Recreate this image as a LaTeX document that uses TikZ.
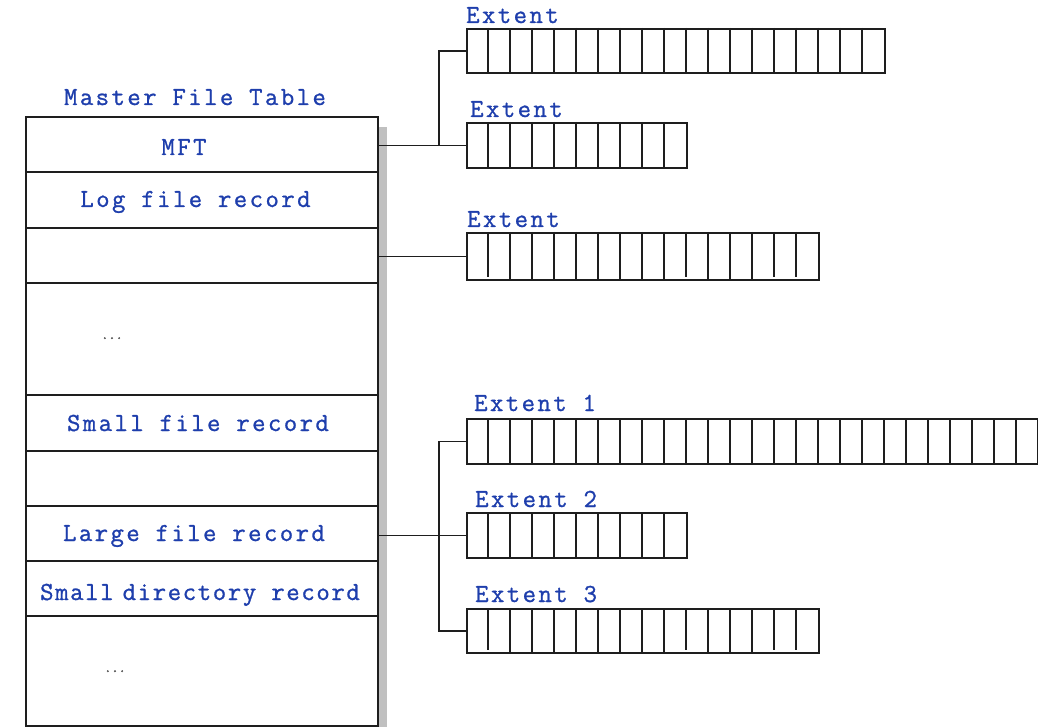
\documentclass[tikz,border=0pt]{standalone}
\usepackage{fontspec}
\newfontfamily\courwide[LetterSpace=9.4,FakeBold=1.0]{Latin Modern Mono}
\newfontfamily\courmid[LetterSpace=6.3,FakeBold=1.0]{Latin Modern Mono}
\newfontfamily\courdots[FakeBold=2.5]{Latin Modern Mono}
\usetikzlibrary{calc}
\definecolor{txtblue}{RGB}{30,62,172}
\definecolor{shadowgray}{RGB}{192,192,192}
\definecolor{linegray}{RGB}{30,30,30}
\begin{document}
\begin{tikzpicture}[x=1pt,y=-1pt,
  rowbox/.style={draw=linegray, line width=1.8pt, minimum width=352pt, inner sep=0pt, anchor=north west},
  txt/.style={font=\courwide\fontsize{26}{26}\selectfont, text=txtblue, inner sep=0pt, anchor=base},
  txtnarrow/.style={font=\courmid\fontsize{26}{26}\selectfont, text=txtblue, inner sep=0pt, anchor=base},
  lbl/.style={txt, anchor=base west},
  dots/.style={font=\courdots\fontsize{14}{14}\selectfont, text=black!65, inner sep=0pt, anchor=base},
  extent/.style={draw=linegray, line width=1.8pt, minimum height=45pt, inner sep=0pt, anchor=north west},
  cellline/.style={draw=linegray, line width=1.8pt},
  conn/.style={draw=linegray, line width=1.7pt}
]
\path[use as bounding box] (0,0) rectangle (1038,727);
\clip (0,0) rectangle (1038,727);

% shadow
\fill[shadowgray] (377,127) rectangle (387,727);

% table rows
\node[rowbox, minimum height=55pt]  (r1) at (25,116) {};
\node[rowbox, minimum height=56pt]  (r2) at (25,171) {};
\node[rowbox, minimum height=55pt]  (r3) at (25,227) {};
\node[rowbox, minimum height=112pt] (r4) at (25,282) {};
\node[rowbox, minimum height=56pt]  (r5) at (25,394) {};
\node[rowbox, minimum height=55pt]  (r6) at (25,450) {};
\node[rowbox, minimum height=55pt]  (r7) at (25,505) {};
\node[rowbox, minimum height=55pt]  (r8) at (25,560) {};
\node[rowbox, minimum height=110pt] (r9) at (25,615) {};

% table texts
\node[txt] (title) at (195,105) {Master File Table};
\node[txt] (t1) at (184,155) {MFT};
\node[txt] (t2) at (195.5,207) {Log file record};
\node[dots] (t4) at (112,339) {...};
\node[txt] (t5) at (198,431) {Small file record};
\node[txt] (t7) at (194,541) {Large file record};
\node[txtnarrow] (t8) at (200,600) {Small\hspace{-6pt} directory record};
\node[dots] (t9) at (115,672) {...};

% extents
\node[extent, minimum width=418pt, minimum height=44pt] (e1) at (466,28) {};
\node[extent, minimum width=220pt] (e2) at (466,122) {};
\node[extent, minimum width=352pt, minimum height=47pt] (e3) at (466,232) {};
\node[extent, minimum width=594pt] (x1) at (466,418) {};
\node[extent, minimum width=220pt] (x2) at (466,512) {};
\node[extent, minimum width=352pt, minimum height=44pt] (x3) at (466,608) {};

% cell dividers
\foreach \i in {1,...,18}
  \draw[cellline] ($(e1.north west)+(22*\i,0)$) -- ($(e1.south west)+(22*\i,0)$);
\foreach \n in {e2,x2}
  \foreach \i in {1,...,9}
    \draw[cellline] ($(\n.north west)+(22*\i,0)$) -- ($(\n.south west)+(22*\i,0)$);
\foreach \n in {e3,x3}{
  \foreach \i in {2,...,9,11,12,13}
    \draw[cellline] ($(\n.north west)+(22*\i,0)$) -- ($(\n.south west)+(22*\i,0)$);
  \foreach \i in {1,10,14,15}
    \draw[cellline] ($(\n.north west)+(22*\i,0)$) -- ($(\n.south west)+(22*\i,-4)$);
}
\foreach \i in {1,...,26}
  \draw[cellline] ($(x1.north west)+(22*\i,0)$) -- ($(x1.south west)+(22*\i,0)$);

% extent labels
\node[lbl] (le1) at (466,23) {Extent};
\node[lbl] (le2) at (470,117) {Extent};
\node[lbl] (le3) at (467,227) {Extent};
\node[lbl] (lx1) at (474,411) {Extent 1};
\node[lbl] (lx2) at (475,507) {Extent 2};
\node[lbl] (lx3) at (475,602) {Extent 3};

% connectors
\coordinate (b1) at (439,0);
\draw[conn] (r1.east |- e2.west) -- (e2.west);
\draw[conn] (e2.west -| b1) |- (e1.west);
\draw[conn] (r3.east |- e3.west) -- (e3.west);
\draw[conn] (r7.east |- x2.west) -- (x2.west);
\draw[conn] (x1.west) -- (x1.west -| b1) -- (x3.west -| b1) -- (x3.west);
\end{tikzpicture}
\end{document}
